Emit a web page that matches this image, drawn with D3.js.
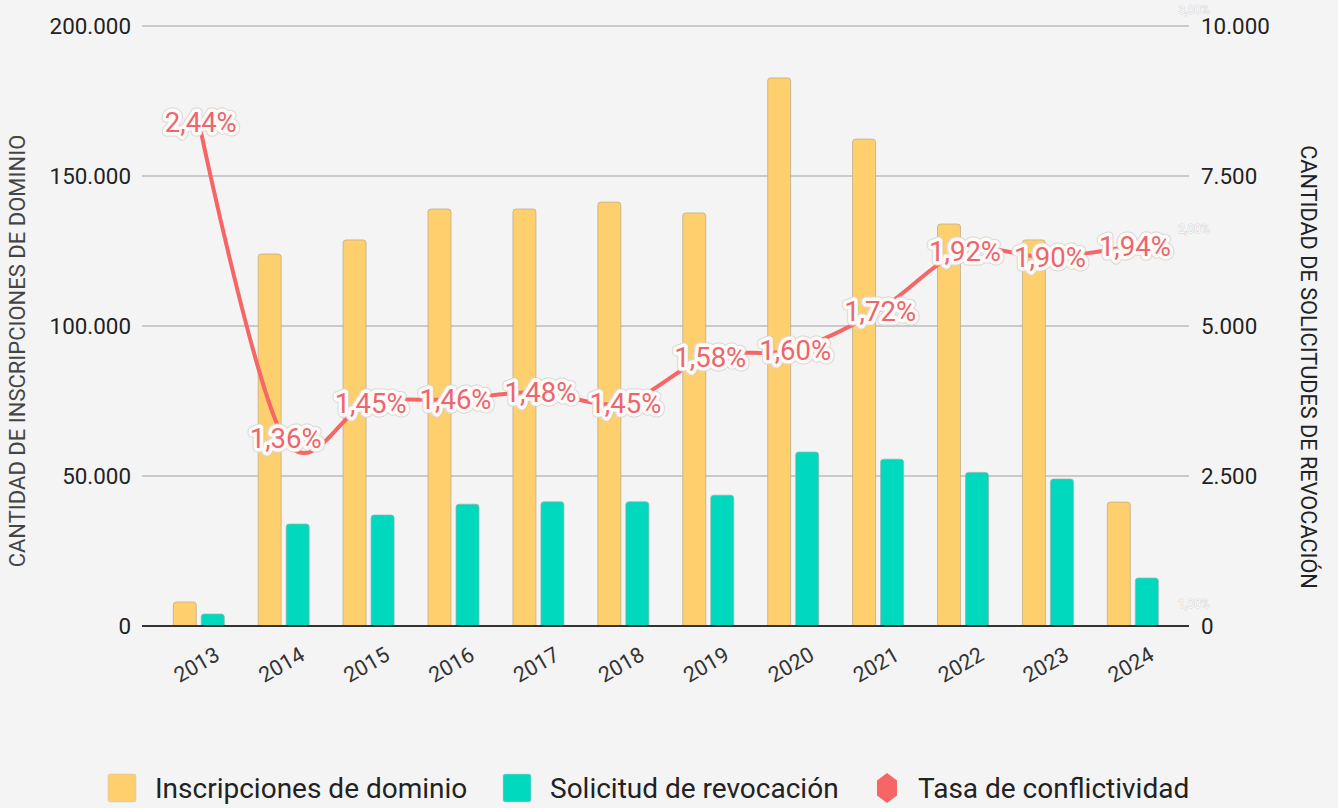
<!DOCTYPE html>
<html lang="es">
<head>
  <meta charset="UTF-8">
  <title>Inscripciones y revocaciones</title>
  <script src="https://d3js.org/d3.v7.min.js"></script>
  <style>
    body {
      margin: 0;
      background-color: #f4f4f4;
      font-family: Roboto, 'Noto Sans', sans-serif;
    }
    .tick text { font-family: Roboto, sans-serif; }
  </style>
</head>
<body>
  <svg width="1338" height="808"></svg>
  <script>
    // data
    const years = ["2013", "2014", "2015", "2016", "2017", "2018", "2019", "2020", "2021", "2022", "2023", "2024"];
    const inscripciones = [8000, 124000, 128700, 139000, 139000, 141300, 137700, 182700, 162300, 134000, 128700, 41300];
    const revocaciones = [200, 1700, 1850, 2030, 2070, 2070, 2180, 2900, 2780, 2560, 2450, 800];
    const tasa = [2.44, 1.36, 1.45, 1.46, 1.48, 1.45, 1.58, 1.60, 1.72, 1.92, 1.90, 1.94];
    const leftTicks = [0, 50000, 100000, 150000, 200000];
    const rightTicks = [0, 2500, 5000, 7500, 10000];
    const pctTicks = [1, 2, 3];
    const seriesNames = ["Inscripciones de dominio", "Solicitud de revocación", "Tasa de conflictividad"];

    const yellow = "#fdcf6d", teal = "#00d9bd", red = "#f66666";

    const svg = d3.select("svg");
    const plotTop = 26, plotBottom = 626, plotLeft = 142, plotRight = 1189;

    const es = d3.formatLocale({decimal: ",", thousands: ".", grouping: [3], currency: ["", "€"]});
    const fmtInt = es.format(",d");
    const fmtPct = v => es.format(".2f")(v) + "%";

    const x0 = d3.scaleBand().domain(years).range([plotLeft + 14.3, plotRight - 13.7]);
    const x1 = d3.scaleBand().domain([0, 1])
      .range([x0.bandwidth() / 2 - 25.5, x0.bandwidth() / 2 + 25.5])
      .paddingInner(5 / 28);
    const yL = d3.scaleLinear().domain([0, 200000]).range([plotBottom, plotTop]);
    const yR = d3.scaleLinear().domain([0, 10000]).range([plotBottom, plotTop]);
    const yP = d3.scaleLog().domain([1, 3]).range([604, 10]);

    // gridlines
    svg.append("g")
      .selectAll("line")
      .data(leftTicks.slice(1))
      .enter().append("line")
      .attr("x1", plotLeft).attr("x2", plotRight)
      .attr("y1", d => yL(d)).attr("y2", d => yL(d))
      .attr("stroke", "#bdbdbd").attr("stroke-width", 1.5);

    // left axis
    const gL = svg.append("g")
      .attr("transform", "translate(" + plotLeft + ",0)")
      .call(d3.axisLeft(yL).tickValues(leftTicks).tickFormat(fmtInt).tickSize(0).tickPadding(11));
    gL.select(".domain").remove();
    gL.selectAll("text").attr("font-size", 22.4).attr("fill", "#222");

    // right axis
    const gR = svg.append("g")
      .attr("transform", "translate(" + plotRight + ",0)")
      .call(d3.axisRight(yR).tickValues(rightTicks).tickFormat(fmtInt).tickSize(0).tickPadding(12));
    gR.select(".domain").remove();
    gR.selectAll("text").attr("font-size", 22.4).attr("fill", "#222");

    // hidden-ish percent axis
    svg.append("g")
      .selectAll("text")
      .data(pctTicks)
      .enter().append("text")
      .attr("x", 1194).attr("y", d => yP(d))
      .attr("dy", "0.35em")
      .attr("text-anchor", "middle")
      .attr("font-size", 12)
      .attr("fill", "#fafafa")
      .attr("stroke", "#d0d0d0").attr("stroke-width", 0.8)
      .attr("paint-order", "stroke")
      .text(d => es.format(".2f")(d) + "%");

    // bars
    const rounded = (x, y, w, h, r) => {
      r = Math.min(r, h / 2);
      return "M" + x + "," + (y + h) + "V" + (y + r) + "Q" + x + "," + y + " " + (x + r) + "," + y +
        "H" + (x + w - r) + "Q" + (x + w) + "," + y + " " + (x + w) + "," + (y + r) + "V" + (y + h) + "Z";
    };
    const groups = svg.append("g")
      .selectAll("g")
      .data(years)
      .enter().append("g")
      .attr("transform", d => "translate(" + x0(d) + ",0)");
    groups.append("path")
      .attr("d", (d, i) => rounded(x1(0), yL(inscripciones[i]), x1.bandwidth(), plotBottom - yL(inscripciones[i]), 3))
      .attr("fill", yellow).attr("stroke", "#b9a88a").attr("stroke-width", 0.7);
    groups.append("path")
      .attr("d", (d, i) => rounded(x1(1), yR(revocaciones[i]), x1.bandwidth(), plotBottom - yR(revocaciones[i]), 3))
      .attr("fill", teal).attr("stroke", "#8fb5ad").attr("stroke-width", 0.7);

    // baseline
    svg.append("line")
      .attr("x1", plotLeft).attr("x2", plotRight)
      .attr("y1", plotBottom).attr("y2", plotBottom)
      .attr("stroke", "#333").attr("stroke-width", 2.2);

    // x labels
    svg.append("g")
      .selectAll("text")
      .data(years)
      .enter().append("text")
      .attr("transform", d => "translate(" + (x0(d) + x0.bandwidth() / 2 + 15) + ",646) rotate(-30)")
      .attr("text-anchor", "end")
      .attr("dy", "0.7em")
      .attr("font-size", 21.5)
      .attr("fill", "#333")
      .text(d => d);

    // line
    const cx = d => x0(d) + x0.bandwidth() / 2;
    const line = d3.line()
      .x((d, i) => cx(years[i]))
      .y(d => yP(d))
      .curve(d3.curveCardinal.tension(0));
    svg.append("path")
      .datum(tasa)
      .attr("d", line)
      .attr("fill", "none")
      .attr("stroke", red).attr("stroke-width", 4)
      .attr("stroke-linecap", "round");

    // value labels
    const lab = svg.append("g")
      .selectAll("g")
      .data(tasa)
      .enter().append("g")
      .attr("transform", (d, i) => "translate(" + (cx(years[i]) + 2) + "," + yP(d) + ")");
    lab.append("text")
      .attr("text-anchor", "middle").attr("dy", "0.36em")
      .attr("font-size", 27.5)
      .attr("fill", "none")
      .attr("stroke", "#d8d8d8").attr("stroke-width", 9).attr("stroke-linejoin", "round")
      .text(d => fmtPct(d));
    lab.append("text")
      .attr("text-anchor", "middle").attr("dy", "0.36em")
      .attr("font-size", 27.5)
      .attr("fill", "#ea6670")
      .attr("stroke", "#fffaf6").attr("stroke-width", 7).attr("stroke-linejoin", "round")
      .attr("paint-order", "stroke")
      .text(d => fmtPct(d));

    // axis titles
    svg.append("text")
      .attr("transform", "translate(25,351) rotate(-90)")
      .attr("text-anchor", "middle")
      .attr("font-size", 22).attr("fill", "#444")
      .text("CANTIDAD DE INSCRIPCIONES DE DOMINIO");
    svg.append("text")
      .attr("transform", "translate(1301,367) rotate(90)")
      .attr("text-anchor", "middle")
      .attr("font-size", 21.7).attr("fill", "#222")
      .text("CANTIDAD DE SOLICITUDES DE REVOCACIÓN");

    // legend
    const legend = svg.append("g").attr("transform", "translate(0,788)");
    const lx = [108, 503, 880];
    const lc = [yellow, teal, red];
    seriesNames.forEach((name, i) => {
      if (i < 2) {
        legend.append("rect")
          .attr("x", lx[i]).attr("y", -14).attr("width", 28).attr("height", 28).attr("rx", 2)
          .attr("fill", lc[i]).attr("stroke", "#ccc").attr("stroke-width", 0.6);
      } else {
        const hx = lx[i] + 7, hw = 10, hh = 15;
        legend.append("path")
          .attr("d", "M" + hx + "," + (-hh) + "L" + (hx + hw) + "," + (-hh / 2) + "L" + (hx + hw) + "," + (hh / 2) +
            "L" + hx + "," + hh + "L" + (hx - hw) + "," + (hh / 2) + "L" + (hx - hw) + "," + (-hh / 2) + "Z")
          .attr("fill", lc[i]);
      }
      legend.append("text")
        .attr("x", i < 2 ? lx[i] + 47 : lx[i] + 38).attr("y", 0).attr("dy", "0.36em")
        .attr("font-size", 28).attr("fill", "#222")
        .text(name);
    });
  </script>
</body>
</html>
